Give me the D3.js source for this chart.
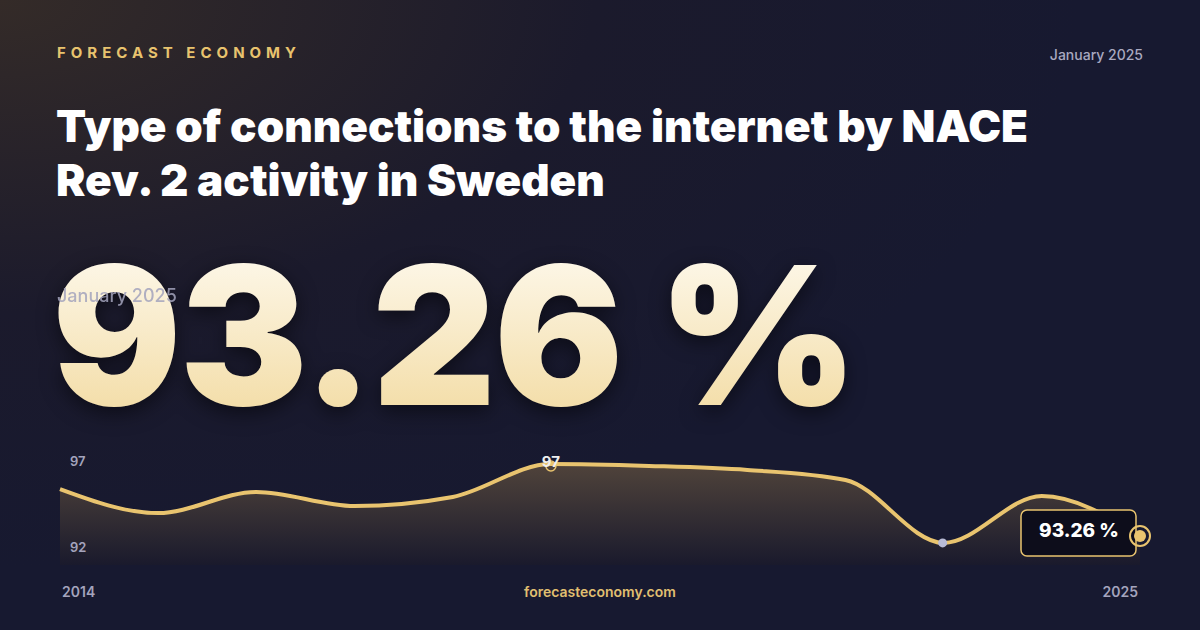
<!DOCTYPE html>
<html>
<head>
<meta charset="utf-8">
<script src="https://d3js.org/d3.v7.min.js"></script>
<style>
  body { margin: 0; background: #16172a; }
  svg { display: block; font-family: Inter, "Noto Sans", sans-serif; }
</style>
</head>
<body>
<script>
var years = [2014, 2015, 2016, 2017, 2018, 2019, 2020, 2021, 2022, 2023, 2024, 2025];
var values = [95.7, 94.45, 95.55, 94.82, 95.29, 97.0, 96.9, 96.69, 96.17, 92.9, 95.34, 93.26];
var latestLabel = "93.26 %";
var dateLabel = "January 2025";

var W = 1200, H = 630;
var svg = d3.select("body").append("svg").attr("width", W).attr("height", H);
var defs = svg.append("defs");

var bg = defs.append("radialGradient").attr("id", "bg").attr("cx", "0").attr("cy", "0").attr("r", "0.9");
bg.append("stop").attr("offset", "0").attr("stop-color", "#342b28");
bg.append("stop").attr("offset", "0.55").attr("stop-color", "#1b1a2c");
bg.append("stop").attr("offset", "1").attr("stop-color", "#171930");
svg.append("rect").attr("width", W).attr("height", H).attr("fill", "url(#bg)");

var big = defs.append("linearGradient").attr("id", "big").attr("x1", 0).attr("x2", 0).attr("y1", 0).attr("y2", 1);
big.append("stop").attr("offset", "0").attr("stop-color", "#fffdf7");
big.append("stop").attr("offset", "1").attr("stop-color", "#f1d798");

var area = defs.append("linearGradient").attr("id", "area").attr("x1", 0).attr("x2", 0).attr("y1", 0).attr("y2", 1);
area.append("stop").attr("offset", "0").attr("stop-color", "#56483c").attr("stop-opacity", 0.9);
area.append("stop").attr("offset", "1").attr("stop-color", "#1a1a2c").attr("stop-opacity", 0.9);

svg.append("text").attr("x", 57).attr("y", 58).text("FORECAST ECONOMY")
  .attr("fill", "#e8c36e").attr("font-size", 15).attr("font-weight", 700).attr("letter-spacing", 5);
svg.append("text").attr("x", 1143).attr("y", 60).attr("text-anchor", "end").text(dateLabel)
  .attr("fill", "#a9a9c0").attr("font-size", 14).attr("font-weight", 500);

var title = svg.append("text").attr("fill", "#fff").attr("font-size", 44).attr("font-weight", 900);
title.append("tspan").attr("x", 56).attr("y", 142).text("Type of connections to the internet by NACE");
title.append("tspan").attr("x", 56).attr("y", 196).text("Rev. 2 activity in Sweden");

svg.append("text").attr("x", 52).attr("y", 405).text(latestLabel)
  .attr("fill", "url(#big)").attr("font-size", 192).attr("font-weight", 900).attr("letter-spacing", -2)
  .style("filter", "drop-shadow(0 6px 10px rgba(0,0,0,0.5))");
svg.append("text").attr("x", 57).attr("y", 302).text(dateLabel)
  .attr("fill", "#a4a4bd").attr("font-size", 18).attr("font-weight", 500).attr("opacity", 0.85);

var x = d3.scaleLinear().domain([2014, 2025]).range([60, 1140]);
var y = d3.scaleLinear().domain([92, 97]).range([560.25, 464]);
var bottom = 565;
var curve = d3.curveMonotoneX;
var data = years.map(function (d, i) { return {year: d, value: values[i]}; });

svg.append("path").datum(data).attr("fill", "url(#area)")
  .attr("d", d3.area().x(function (d) { return x(d.year); }).y0(bottom).y1(function (d) { return y(d.value); }).curve(curve));
svg.append("path").datum(data).attr("fill", "none").attr("stroke", "#e9c46f").attr("stroke-width", 4)
  .attr("d", d3.line().x(function (d) { return x(d.year); }).y(function (d) { return y(d.value); }).curve(curve));

svg.append("text").attr("x", 70).attr("y", 466).text("97").attr("fill", "#a4a4bd").attr("font-size", 13).attr("font-weight", 600);
svg.append("text").attr("x", 70).attr("y", 552).text("92").attr("fill", "#a4a4bd").attr("font-size", 13).attr("font-weight", 600);

var iMax = d3.maxIndex(values), iMin = d3.minIndex(values), iLast = values.length - 1;
svg.append("circle").attr("cx", x(years[iMax])).attr("cy", y(values[iMax]) + 2).attr("r", 5)
  .attr("fill", "none").attr("stroke", "#e9c46f").attr("stroke-width", 1.5);
svg.append("text").attr("x", x(years[iMax])).attr("y", y(values[iMax]) + 3).attr("text-anchor", "middle")
  .text(d3.format(".0f")(values[iMax])).attr("fill", "#eee").attr("font-size", 15).attr("font-weight", 700);
svg.append("circle").attr("cx", x(years[iMin]) - 1).attr("cy", y(values[iMin])).attr("r", 4.5).attr("fill", "#b9bcd6");

var lx = x(years[iLast]), ly = y(values[iLast]);
svg.append("rect").attr("x", lx - 119).attr("y", ly - 26).attr("width", 115).attr("height", 46).attr("rx", 6)
  .attr("fill", "#0d0d1b").attr("stroke", "#e9c46f").attr("stroke-width", 1.5);
svg.append("text").attr("x", lx - 61).attr("y", ly + 1).attr("text-anchor", "middle").text(latestLabel)
  .attr("fill", "#fff").attr("font-size", 19).attr("font-weight", 800);
svg.append("circle").attr("cx", lx).attr("cy", ly).attr("r", 10).attr("fill", "none").attr("stroke", "#e9c46f").attr("stroke-width", 2);
svg.append("circle").attr("cx", lx).attr("cy", ly).attr("r", 6).attr("fill", "#e9c46f");

svg.append("text").attr("x", 62).attr("y", 597).text(years[0]).attr("fill", "#a4a4bd").attr("font-size", 14).attr("font-weight", 600);
svg.append("text").attr("x", 1138).attr("y", 597).attr("text-anchor", "end").text(years[iLast]).attr("fill", "#a4a4bd").attr("font-size", 14).attr("font-weight", 600);
svg.append("text").attr("x", 600).attr("y", 597).attr("text-anchor", "middle").text("forecasteconomy.com")
  .attr("fill", "#e0bf70").attr("font-size", 14).attr("font-weight", 600);
</script>
</body>
</html>
